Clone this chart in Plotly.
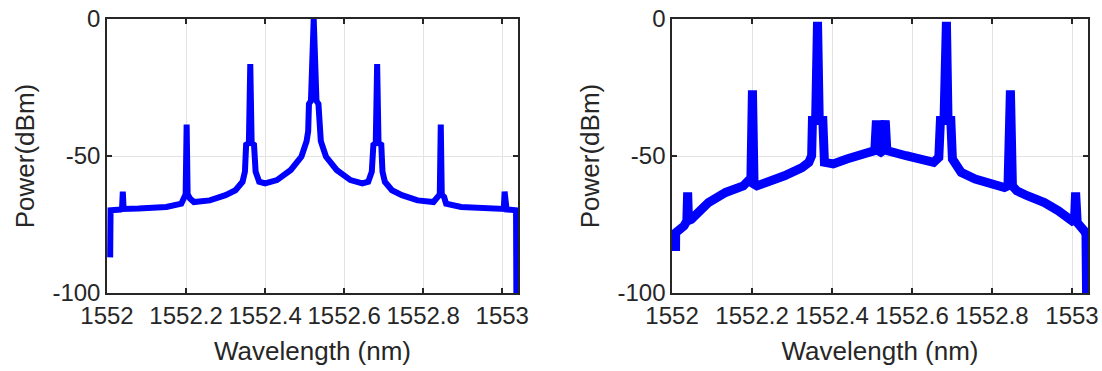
import plotly.graph_objects as go
from plotly.subplots import make_subplots

# ---- data ----
wl_a = [1552.008, 1552.009, 1552.035, 1552.038, 1552.040, 1552.042, 1552.080, 1552.150,
        1552.188, 1552.193, 1552.199, 1552.2015, 1552.204, 1552.210, 1552.220, 1552.260,
        1552.300, 1552.325, 1552.343, 1552.349, 1552.352, 1552.359, 1552.3625, 1552.366,
        1552.372, 1552.376, 1552.385, 1552.400, 1552.430, 1552.465, 1552.492, 1552.505,
        1552.509, 1552.511, 1552.516, 1552.523, 1552.530, 1552.535, 1552.537, 1552.541,
        1552.554, 1552.581, 1552.616, 1552.646, 1552.661, 1552.670, 1552.674, 1552.680,
        1552.6835, 1552.687, 1552.694, 1552.697, 1552.703, 1552.721, 1552.746, 1552.786,
        1552.826, 1552.836, 1552.842, 1552.8445, 1552.847, 1552.853, 1552.858, 1552.896,
        1552.966, 1553.004, 1553.006, 1553.008, 1553.011, 1553.035, 1553.036]
pw_a = [-87, -69.8, -69.5, -69.3, -63, -69.3, -69.2, -68.6,
        -67.4, -65, -64, -38.5, -64, -65.5, -66.8, -66.2,
        -64.3, -62.5, -59.4, -55.7, -45.9, -45.3, -16.4, -45.3,
        -45.9, -55.7, -59.4, -60, -58.8, -55.1, -50.2, -44.6,
        -41, -31, -29.9, 0, -29.9, -31, -41, -44.6,
        -50.2, -55.1, -58.8, -60, -59.4, -55.7, -45.9, -45.3,
        -16.4, -45.3, -45.9, -55.7, -59.4, -62.5, -64.3, -66.2,
        -66.8, -65.5, -64, -38.5, -64, -65, -67.4, -68.6,
        -69.2, -69.3, -63, -69.3, -69.5, -69.8, -110]

wl_b = [1552.0087, 1552.009, 1552.030, 1552.037, 1552.039, 1552.041, 1552.048, 1552.091,
        1552.134, 1552.178, 1552.191, 1552.197, 1552.201, 1552.205, 1552.212, 1552.238,
        1552.281, 1552.325, 1552.342, 1552.349, 1552.351, 1552.359, 1552.3637, 1552.368,
        1552.377, 1552.381, 1552.403, 1552.437, 1552.481, 1552.502, 1552.507, 1552.511,
        1552.515, 1552.522, 1552.528, 1552.533, 1552.537, 1552.585, 1552.628, 1552.654,
        1552.667, 1552.671, 1552.680, 1552.686, 1552.690, 1552.697, 1552.701, 1552.723,
        1552.758, 1552.801, 1552.831, 1552.840, 1552.846, 1552.851, 1552.862, 1552.888,
        1552.931, 1552.966, 1552.996, 1553.006, 1553.009, 1553.013, 1553.031, 1553.035,
        1553.037]
pw_b = [-84.7, -78, -75.5, -73.7, -63.3, -73.5, -73.1, -67,
        -63.3, -60.9, -59, -59.5, -26, -60.3, -60.9, -59.7,
        -57.2, -54.2, -52.3, -49.9, -37, -37, -1, -37,
        -37, -52.3, -52.9, -51.1, -49.3, -48, -48, -37,
        -48, -48.6, -48, -37, -48, -49.9, -51.7, -52.3,
        -50.5, -37, -37, -1, -37, -37, -51.1, -56,
        -58.4, -60.3, -61.5, -60.9, -26, -60.9, -62.7, -64.5,
        -67, -70, -73.7, -74.3, -63.3, -74.3, -77.4, -78.6,
        -110]

x_ticks = [1552, 1552.2, 1552.4, 1552.6, 1552.8, 1553]
x_ticktext = ["1552", "1552.2", "1552.4", "1552.6", "1552.8", "1553"]
y_ticks = [-100, -50, 0]
y_ticktext = ["-100", "-50", "0"]

x_title = "Wavelength (nm)"
y_title = "Power(dBm)"

# ---- figure ----
AX = "#262626"
GRID = "#e3e3e3"
FONT = "Arial, Liberation Sans, sans-serif"

fig = make_subplots(rows=1, cols=2, horizontal_spacing=0.157)

fig.add_trace(go.Scatter(x=wl_a, y=pw_a, mode="lines",
                         line=dict(color="#0000ff", width=6), showlegend=False), row=1, col=1)
fig.add_trace(go.Scatter(x=wl_b, y=pw_b, mode="lines",
                         line=dict(color="#0000ff", width=9), showlegend=False), row=1, col=2)

for c in (1, 2):
    fig.update_xaxes(range=[1552, 1553.04], tickvals=x_ticks, ticktext=x_ticktext,
                     showgrid=True, gridcolor=GRID, gridwidth=1,
                     showline=True, linecolor=AX, linewidth=1.5, mirror="ticks",
                     ticks="inside", ticklen=5, tickcolor=AX, tickwidth=1.5,
                     tickfont=dict(family=FONT, size=24, color=AX),
                     title=dict(text=x_title, font=dict(family=FONT, size=26, color=AX), standoff=14),
                     zeroline=False, automargin=False, row=1, col=c)
    fig.update_yaxes(range=[-100, 0], tickvals=y_ticks, ticktext=y_ticktext,
                     showgrid=True, gridcolor=GRID, gridwidth=1,
                     showline=True, linecolor=AX, linewidth=1.5, mirror="ticks",
                     ticks="inside", ticklen=5, tickcolor=AX, tickwidth=1.5,
                     tickfont=dict(family=FONT, size=24, color=AX),
                     title=dict(text=y_title, font=dict(family=FONT, size=26, color=AX), standoff=10),
                     zeroline=False, automargin=False, row=1, col=c)

fig.update_xaxes(domain=[0, 0.419], row=1, col=1)
fig.update_xaxes(domain=[0.576, 1], row=1, col=2)

fig.update_layout(width=1102, height=371,
                  margin=dict(l=107, r=14, t=19, b=78, autoexpand=False),
                  plot_bgcolor="white", paper_bgcolor="white",
                  font=dict(family=FONT, color=AX))

fig.write_html("out.html", config={"displayModeBar": False},
               post_script="document.body.style.margin='0';document.body.style.overflow='hidden';")
